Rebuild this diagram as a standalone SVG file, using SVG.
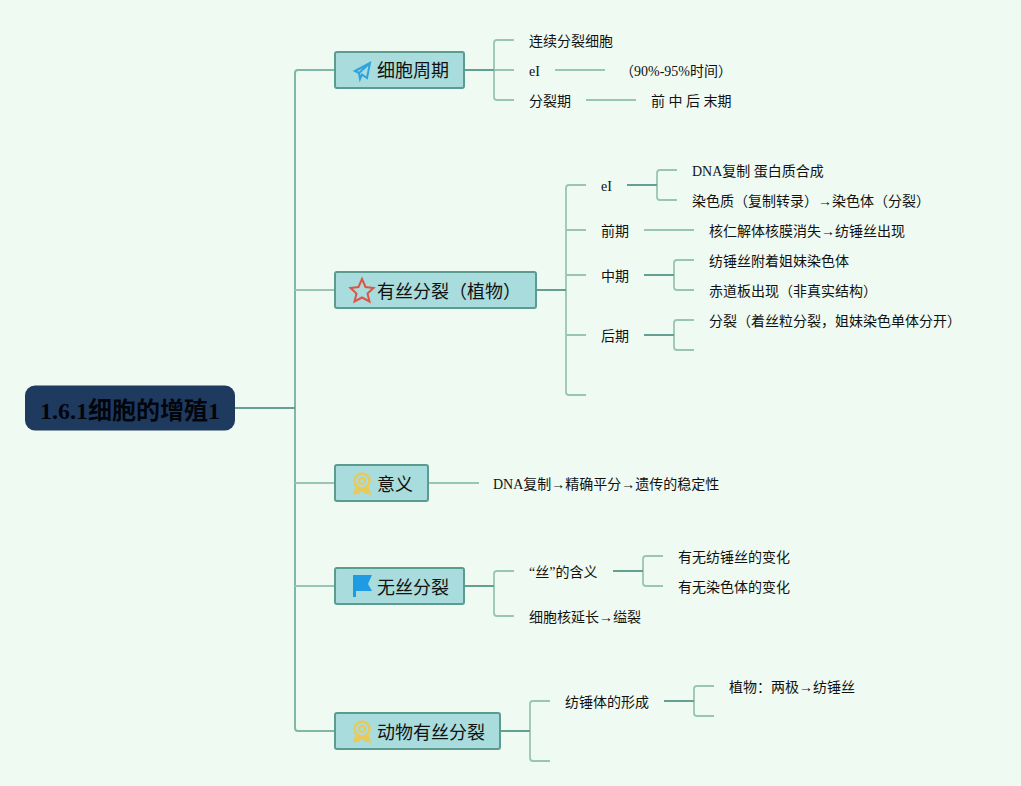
<svg xmlns="http://www.w3.org/2000/svg" width="1021" height="786" viewBox="0 0 1021 786">
<style>
text{font-family:"Liberation Serif","Noto Sans CJK SC",sans-serif;fill:#111}
.l{font-size:14px}
.t{font-size:18px}
.r{font-size:24px;font-weight:bold;fill:#02060c}
.box{fill:#a9dcdc;stroke:#5b9b90;stroke-width:2}
.lt path{fill:none;stroke:#98c6b2;stroke-width:1.8}
.dk path{fill:none;stroke:#649f94;stroke-width:2}
.ic{fill:none;stroke-width:2}
</style>
<defs>
<g id="medal" class="ic" stroke="#e9c95a">
<circle cx="0" cy="-3" r="7.500" stroke-width="2.600"/><circle cx="0" cy="-3" r="3"/>
<path fill="#e9c95a" stroke-width="1.500" d="M-6 3L-8 10L-3 8.500L0 6L3 8.500L8 10L6 3L0 5Z"/>
</g>
</defs>
<rect width="1021" height="786" fill="#eefaf2"/>
<g id="connectors">
<g class="lt">
<path style="stroke:#80b7a8;stroke-width:2" d="M335 70H298Q295 70 295 73V728Q295 731 298 731H335"/>
<path d="M295 290H335M295 483H335M295 586H335"/>
<path d="M514 40H497Q494 40 494 43V97Q494 100 497 100H514M494 70H514"/>
<path d="M555 70H605M586 100H636"/>
<path d="M586 185H569Q566 185 566 188V392Q566 395 569 395H586M566 230H586M566 275H586M566 335H586"/>
<path d="M677 170H660Q657 170 657 173V197Q657 200 660 200H677"/>
<path d="M644 230H694"/>
<path d="M694 260H677Q674 260 674 263V287Q674 290 677 290H694"/>
<path d="M694 320H677Q674 320 674 323V347Q674 350 677 350H694"/>
<path d="M429 483H479"/>
<path d="M514 571H497Q494 571 494 574V613Q494 616 497 616H514"/>
<path d="M663 556H646Q643 556 643 559V583Q643 586 646 586H663"/>
<path d="M550 701H533Q530 701 530 704V758Q530 761 533 761H550"/>
<path d="M714 686H697Q694 686 694 689V713Q694 716 697 716H714"/>
</g>
<g class="dk">
<path d="M235 408H295"/>
<path d="M465 70H494M537 290H566M465 586H494M501 731H530"/>
<path d="M627 185H657M644 275H674M644 335H674M613 571H643M664 701H694"/>
</g>
</g>
<g id="root"><rect x="25" y="385.500" width="210" height="45" rx="10" fill="#1f3a5f"/><text class="r" x="130" y="419" text-anchor="middle">1.6.1细胞的增殖1</text></g>
<g id="topic1"><rect class="box" x="335" y="52" width="129" height="36" rx="2"/>
<path class="ic" stroke="#2ea3dd" stroke-width="1.800" d="M355 71L370 63L367 78L362 74.500L360 79L359 73ZM359 73L370 63"/>
<text class="t" x="377" y="77">细胞周期</text></g>
<g id="topic2"><rect class="box" x="335" y="272" width="201" height="36" rx="2"/>
<path class="ic" stroke="#dc5546" d="M362 279L365.500 287L373.500 288L367.500 293.500L369.500 301.500L362 297.500L354.500 301.500L356.500 293.500L350.500 288L358.500 287Z"/>
<text class="t" x="377" y="298">有丝分裂（植物）</text></g>
<g id="topic3"><rect class="box" x="335" y="465" width="93" height="36" rx="2"/>
<use href="#medal" x="362" y="484"/><text class="t" x="377" y="491">意义</text></g>
<g id="topic4"><rect class="box" x="335" y="568" width="129" height="36" rx="2"/>
<path fill="#1e9be2" d="M353 575H372L368 584L372 591H356V597H353Z"/>
<text class="t" x="377" y="594">无丝分裂</text></g>
<g id="topic5"><rect class="box" x="335" y="713" width="165" height="36" rx="2"/>
<use href="#medal" x="362" y="732"/><text class="t" x="377" y="739">动物有丝分裂</text></g>
<g id="n1"><text class="l" x="529" y="46">连续分裂细胞</text></g>
<g id="n2"><text class="l" x="529" y="76">eI</text></g>
<g id="n3"><text class="l" x="620" y="76">（90%-95%时间）</text></g>
<g id="n4"><text class="l" x="529" y="106">分裂期</text></g>
<g id="n5"><text class="l" x="651" y="106">前 中 后 末期</text></g>
<g id="n6"><text class="l" x="601" y="191">eI</text></g>
<g id="n7"><text class="l" x="692" y="176">DNA复制 蛋白质合成</text></g>
<g id="n8"><text class="l" x="692" y="206">染色质（复制转录）→染色体（分裂）</text></g>
<g id="n9"><text class="l" x="601" y="236">前期</text></g>
<g id="n10"><text class="l" x="709" y="236">核仁解体核膜消失→纺锤丝出现</text></g>
<g id="n11"><text class="l" x="601" y="281">中期</text></g>
<g id="n12"><text class="l" x="709" y="266">纺锤丝附着姐妹染色体</text></g>
<g id="n13"><text class="l" x="709" y="296">赤道板出现（非真实结构）</text></g>
<g id="n14"><text class="l" x="601" y="341">后期</text></g>
<g id="n15"><text class="l" x="709" y="326">分裂（着丝粒分裂，姐妹染色单体分开）</text></g>
<g id="n16"><text class="l" x="493" y="489">DNA复制→精确平分→遗传的稳定性</text></g>
<g id="n17"><text class="l" x="529" y="577">“丝”的含义</text></g>
<g id="n18"><text class="l" x="678" y="562">有无纺锤丝的变化</text></g>
<g id="n19"><text class="l" x="678" y="592">有无染色体的变化</text></g>
<g id="n20"><text class="l" x="529" y="622">细胞核延长→缢裂</text></g>
<g id="n21"><text class="l" x="565" y="707">纺锤体的形成</text></g>
<g id="n22"><text class="l" x="729" y="692">植物：两极→纺锤丝</text></g>
</svg>
